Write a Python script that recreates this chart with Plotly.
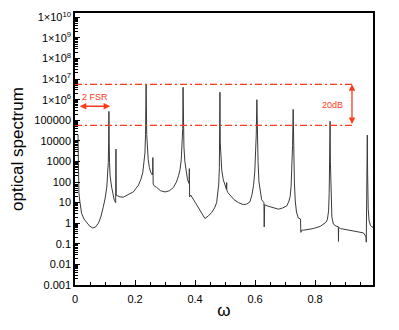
import plotly.graph_objects as go

# ---- data ----
omega = [
    0.010, 0.0115, 0.013, 0.016, 0.022, 0.030, 0.039, 0.048, 0.059, 0.068,
    0.078, 0.086, 0.094, 0.100, 0.106, 0.109, 0.111, 0.112, 0.113, 0.114,
    0.115, 0.117, 0.122, 0.127, 0.131, 0.1355, 0.1365, 0.1375, 0.140, 0.150,
    0.161, 0.175, 0.194, 0.211, 0.220, 0.226, 0.230, 0.233, 0.235, 0.237,
    0.239, 0.241, 0.244, 0.248, 0.253, 0.2585, 0.2595, 0.2605, 0.264, 0.272,
    0.285, 0.300, 0.315, 0.328, 0.338, 0.345, 0.350, 0.354, 0.357, 0.359,
    0.360, 0.361, 0.363, 0.366, 0.370, 0.375, 0.380, 0.381, 0.382, 0.386,
    0.433, 0.445, 0.455, 0.465, 0.472, 0.476, 0.479, 0.481, 0.482, 0.483,
    0.484, 0.486, 0.489, 0.494, 0.500, 0.5045, 0.5055, 0.506, 0.510, 0.517,
    0.530, 0.545, 0.561, 0.572, 0.583, 0.590, 0.595, 0.599, 0.602, 0.604,
    0.606, 0.608, 0.610, 0.613, 0.617, 0.622, 0.6295, 0.6305, 0.632, 0.640,
    0.650, 0.665, 0.678, 0.692, 0.706, 0.713, 0.717, 0.720, 0.723, 0.725,
    0.727, 0.729, 0.731, 0.734, 0.738, 0.744, 0.7515, 0.7525, 0.755, 0.761,
    0.780, 0.794, 0.817, 0.828, 0.836, 0.841, 0.845, 0.847, 0.849, 0.850,
    0.851, 0.853, 0.856, 0.861, 0.870, 0.8775, 0.878, 0.8785, 0.885, 0.905,
    0.928, 0.950, 0.961, 0.968, 0.970, 0.9705, 0.971, 0.972, 0.973, 0.974,
    0.975, 0.977, 0.980, 0.985, 0.995,
]
spectrum = [
    2.0e4, 200, 30, 12, 3, 1.6, 1.1, 0.75, 0.59, 0.65,
    1.0, 2.0, 6, 15, 57, 180, 900, 8000, 2.7e5, 8000,
    900, 200, 57, 22, 13, 10, 4000, 23, 22, 19,
    18.5, 23, 33, 69, 140, 300, 800, 2500, 2e4, 5.6e6,
    2e4, 2500, 1200, 500, 280, 220, 1550, 80, 65, 55,
    38, 33, 38, 55, 100, 200, 400, 1200, 5000, 4e4,
    4e6, 4e4, 5000, 1000, 300, 130, 85, 450, 19, 23,
    1.7, 2.3, 3.3, 5.5, 10, 25, 80, 500, 8000, 2.3e6,
    8000, 900, 370, 130, 60, 45, 95, 40, 30, 23,
    14, 10, 8, 8.5, 11, 25, 70, 300, 2000, 2e4,
    1e6, 1.5e4, 1000, 100, 30, 14, 10, 0.66, 8, 7,
    6.3, 5.2, 4.8, 5.5, 7, 12, 20, 60, 500, 6000,
    3.4e5, 3000, 100, 12, 3.5, 1.8, 1.6, 0.36, 0.45, 0.46,
    0.5, 0.55, 0.7, 0.87, 1.1, 1.5, 4, 30, 1000, 9e4,
    1000, 20, 2, 0.9, 0.72, 0.68, 0.13, 0.62, 0.55, 0.48,
    0.43, 0.38, 0.34, 0.24, 0.2, 0.12, 0.5, 5, 300, 1.9e4,
    300, 5, 1.3, 0.75, 0.6,
]

level_omega = [0.0, 0.923]
upper_level = [5.6e6, 5.6e6]
lower_level = [5.6e4, 5.6e4]

y_tick_vals = [1e-3, 1e-2, 1e-1, 1, 10, 100, 1e3, 1e4, 1e5,
               1e6, 1e7, 1e8, 1e9, 1e10]
y_tick_text = ["0.001", "0.01", "0.1", "1", "10", "100", "1000", "10000",
               "100000", "1\u00d710<sup>6</sup>", "1\u00d710<sup>7</sup>",
               "1\u00d710<sup>8</sup>", "1\u00d710<sup>9</sup>",
               "1\u00d710<sup>10</sup>"]
x_tick_vals = [0, 0.2, 0.4, 0.6, 0.8]
x_tick_text = ["0", "0.2", "0.4", "0.6", "0.8"]

RED = "#ff3a1a"
FONT = "Liberation Sans, Arial, Helvetica, sans-serif"

fig = go.Figure()
fig.add_trace(go.Scatter(x=omega, y=spectrum, mode="lines",
                         line=dict(color="#3a3a3a", width=1),
                         showlegend=False, hoverinfo="skip"))
for lv in (upper_level, lower_level):
    fig.add_trace(go.Scatter(x=level_omega, y=lv, mode="lines",
                             line=dict(color=RED, width=1.2,
                                       dash="7px,3px,2px,3px"),
                             showlegend=False, hoverinfo="skip"))

minor_vals = [k * 10.0 ** e for e in range(-3, 10) for k in range(2, 10)]

# the page body has an 8px default margin, so the figure is 8px smaller
fig.update_layout(
    width=391, height=322,
    margin=dict(l=67, r=26, t=5, b=45),
    paper_bgcolor="white", plot_bgcolor="white",
    font=dict(family=FONT, size=11, color="black"),
    xaxis=dict(range=[0, 0.993], tickmode="array", tickvals=x_tick_vals,
               ticktext=x_tick_text, ticks="inside", ticklen=5,
               tickcolor="black", showline=True, linecolor="black",
               linewidth=1.5, mirror=True, showgrid=False, zeroline=False,
               automargin=False, ticklabelstandoff=3,
               minor=dict(ticks="inside", ticklen=3, tickcolor="black",
                          dtick=0.05, tick0=0, showgrid=False),
               title=dict(text="\u03c9", font=dict(size=17), standoff=0),
               tickfont=dict(size=11)),
    yaxis=dict(type="log", range=[-3, 10.21], tickmode="array",
               tickvals=y_tick_vals, ticktext=y_tick_text,
               ticks="inside", ticklen=5, tickcolor="black",
               showline=True, linecolor="black", linewidth=1.5, mirror=True,
               showgrid=False, zeroline=False, automargin=False,
               minor=dict(ticks="inside", ticklen=3, tickcolor="black",
                          tickmode="array", tickvals=minor_vals,
                          showgrid=False),
               title=dict(text="optical spectrum", font=dict(size=17),
                          standoff=8),
               tickfont=dict(size=11)),
)

# 2 FSR double arrow and label
fig.add_annotation(x=0.117, y=5.68, ax=0.011, ay=5.68, xref="x", yref="y",
                   axref="x", ayref="y", text="", showarrow=True,
                   arrowhead=2, arrowside="end+start", arrowsize=1,
                   arrowwidth=1.3, arrowcolor=RED)
fig.add_annotation(x=0.065, y=6.12, xref="x", yref="y", text="2 FSR",
                   showarrow=False, font=dict(size=9, color=RED))
# 20dB double arrow and label
fig.add_annotation(x=0.923, y=6.748, ax=0.923, ay=4.748, xref="x", yref="y",
                   axref="x", ayref="y", text="", showarrow=True,
                   arrowhead=2, arrowside="end+start", arrowsize=1,
                   arrowwidth=1.3, arrowcolor=RED)
fig.add_annotation(x=0.857, y=5.73, xref="x", yref="y", text="20dB",
                   showarrow=False, font=dict(size=9, color=RED))

fig.write_html("out.html")
